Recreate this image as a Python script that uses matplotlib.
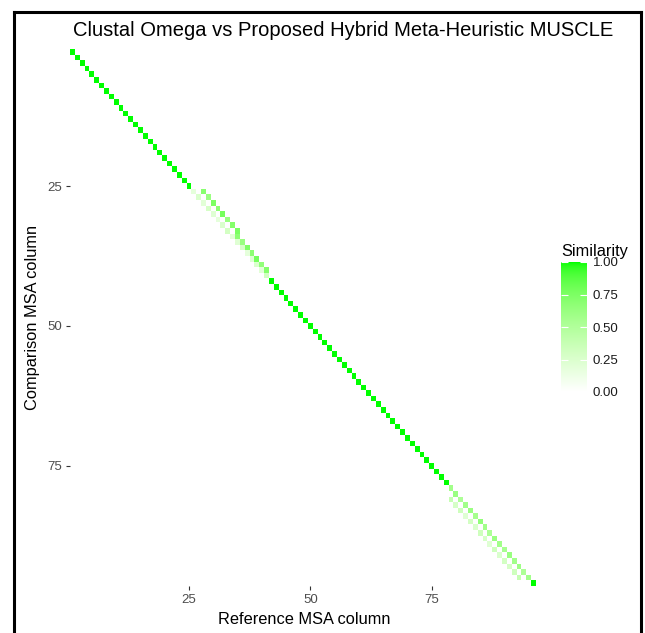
import numpy as np
import matplotlib
matplotlib.use("Agg")
import matplotlib.pyplot as plt
from matplotlib.colors import ListedColormap
from matplotlib.lines import Line2D

plt.rcParams['font.family'] = ['Liberation Sans', 'DejaVu Sans']

# ---------------- data ----------------
n_cols = 96
full_rows = list(range(1, 26)) + list(range(42, 79)) + [96]

regionA_light_rows = list(range(26, 42))
regionA_light_vals = [0.18, 0.25, 0.20, 0.28, 0.22, 0.18, 0.25, 0.30,
                      0.20, 0.22, 0.28, 0.18, 0.22, 0.25, 0.20, 0.32]
regionA_med_rows = list(range(26, 41))
regionA_med_offsets = [2, 2, 2, 2, 2, 2, 2, 2, 1, 1, 1, 1, 1, 1, 1]
regionA_med_vals = [0.70, 0.62, 0.75, 0.68, 0.78, 0.62, 0.72, 0.76,
                    0.68, 0.62, 0.74, 0.68, 0.78, 0.66, 0.72]

regionB_med_rows = list(range(79, 96))
regionB_med_vals = [0.58, 0.62, 0.52, 0.58, 0.62, 0.56, 0.66, 0.58, 0.52,
                    0.62, 0.58, 0.55, 0.62, 0.58, 0.60, 0.52, 0.58]
regionB_light_rows = list(range(81, 96))
regionB_light_offset = -2
regionB_light_vals = [0.38, 0.28, 0.33, 0.22, 0.30, 0.25, 0.33, 0.28,
                      0.22, 0.33, 0.25, 0.30, 0.28, 0.33, 0.38]

x_ticks = [25, 50, 75]
y_ticks = [25, 50, 75]
legend_ticks = [0.0, 0.25, 0.5, 0.75, 1.0]

# similarity matrix (rows = comparison column, cols = reference column)
Z = np.zeros((n_cols, n_cols))
for r in full_rows:
    Z[r - 1, r - 1] = 1.0
for r, v in zip(regionA_light_rows, regionA_light_vals):
    Z[r - 1, r - 1] = v
for r, o, v in zip(regionA_med_rows, regionA_med_offsets, regionA_med_vals):
    Z[r - 1, r - 1 + o] = v
for r, v in zip(regionB_med_rows, regionB_med_vals):
    Z[r - 1, r - 1] = v
for r, v in zip(regionB_light_rows, regionB_light_vals):
    Z[r - 1, r - 1 + regionB_light_offset] = v

# ---------------- colormap: white -> green interpolated in CIELAB ----------------
def srgb_to_lab(rgb):
    rgb = np.asarray(rgb, float)
    lin = np.where(rgb <= 0.04045, rgb / 12.92, ((rgb + 0.055) / 1.055) ** 2.4)
    M = np.array([[0.4124, 0.3576, 0.1805],
                  [0.2126, 0.7152, 0.0722],
                  [0.0193, 0.1192, 0.9505]])
    xyz = M @ lin
    wp = np.array([0.95047, 1.0, 1.08883])
    t = xyz / wp
    f = np.where(t > (6 / 29) ** 3, np.cbrt(t), t / (3 * (6 / 29) ** 2) + 4 / 29)
    return np.array([116 * f[1] - 16, 500 * (f[0] - f[1]), 200 * (f[1] - f[2])])

def lab_to_srgb(lab):
    L, a, b = lab
    fy = (L + 16) / 116
    fx = fy + a / 500
    fz = fy - b / 200
    f = np.array([fx, fy, fz])
    t = np.where(f > 6 / 29, f ** 3, 3 * (6 / 29) ** 2 * (f - 4 / 29))
    xyz = t * np.array([0.95047, 1.0, 1.08883])
    Minv = np.array([[3.2406, -1.5372, -0.4986],
                     [-0.9689, 1.8758, 0.0415],
                     [0.0557, -0.2040, 1.0570]])
    lin = np.clip(Minv @ xyz, 0, 1)
    rgb = np.where(lin <= 0.0031308, 12.92 * lin, 1.055 * lin ** (1 / 2.4) - 0.055)
    return np.clip(rgb, 0, 1)

lab_lo = srgb_to_lab([1.0, 1.0, 1.0])
lab_hi = srgb_to_lab([0.0, 1.0, 0.0])
cols = [lab_to_srgb(lab_lo + (lab_hi - lab_lo) * s) for s in np.linspace(0, 1, 256)]
cmap = ListedColormap(cols)

# ---------------- figure ----------------
W, H = 645, 633
fig = plt.figure(figsize=(W / 100, H / 100), dpi=100)

pl, pr, pt, pb = 70, 536, 49, 586
ax = fig.add_axes([pl / W, 1 - pb / H, (pr - pl) / W, (pb - pt) / H])

edges = np.arange(0.5, n_cols + 1.5, 1.0)
mesh = ax.pcolormesh(edges, edges, Z, cmap=cmap, vmin=0, vmax=1,
                     shading='flat', edgecolors='none', antialiased=False)
ax.set_xlim(0.5, n_cols + 0.5)
ax.set_ylim(n_cols + 0.5, 0.5)
for s in ax.spines.values():
    s.set_visible(False)
ax.set_xticks(x_ticks)
ax.set_yticks(y_ticks)
ax.set_xticklabels([str(t) for t in x_ticks])
ax.set_yticklabels([str(t) for t in y_ticks])
ax.tick_params(length=3, width=0.8, color='#333333', labelcolor='#4D4D4D',
               labelsize=9.5, pad=3)

ax.set_xlabel('Reference MSA column', fontsize=11.8, color='black')
ax.xaxis.label.set_va('center')
ax.xaxis.set_label_coords((304 - pl) / (pr - pl), (pb - 620) / (pb - pt))
ax.set_ylabel('Comparison MSA column', fontsize=11.8, color='black')
ax.yaxis.label.set_va('center')
ax.yaxis.set_label_coords((33 - pl) / (pr - pl), 0.5)

fig.text(73 / W, 1 - 31 / H,
         'Clustal Omega vs Proposed Hybrid Meta-Heuristic MUSCLE',
         fontsize=14.5, ha='left', va='center', color='black')

# colorbar
cl, cr, ct, cb = 561, 587, 262, 392
cax = fig.add_axes([cl / W, 1 - cb / H, (cr - cl) / W, (cb - ct) / H])
cbar = fig.colorbar(mesh, cax=cax, ticks=legend_ticks)
cbar.outline.set_visible(False)
cbar.ax.set_yticklabels(['%.2f' % t for t in legend_ticks])
cax.tick_params(left=True, right=True, labelleft=False, labelright=True,
                direction='in', color='white', length=5, width=0.8,
                labelsize=9.5, labelcolor='#1A1A1A', pad=4)
fig.text(561 / W, 1 - 251 / H, 'Similarity', fontsize=11.8, ha='left',
         va='center', color='black')

# outer border
bc = 'black'
fig.add_artist(Line2D([14 / W, 14 / W], [0, 1 - 12 / H], transform=fig.transFigure,
                      color=bc, lw=2.2))
fig.add_artist(Line2D([14 / W, 641 / W], [1 - 12 / H, 1 - 12 / H],
                      transform=fig.transFigure, color=bc, lw=2.2))
fig.add_artist(Line2D([641 / W, 641 / W], [0, 1 - 12 / H], transform=fig.transFigure,
                      color=bc, lw=2.2))

fig.savefig('out.png', dpi=100, facecolor='white')
